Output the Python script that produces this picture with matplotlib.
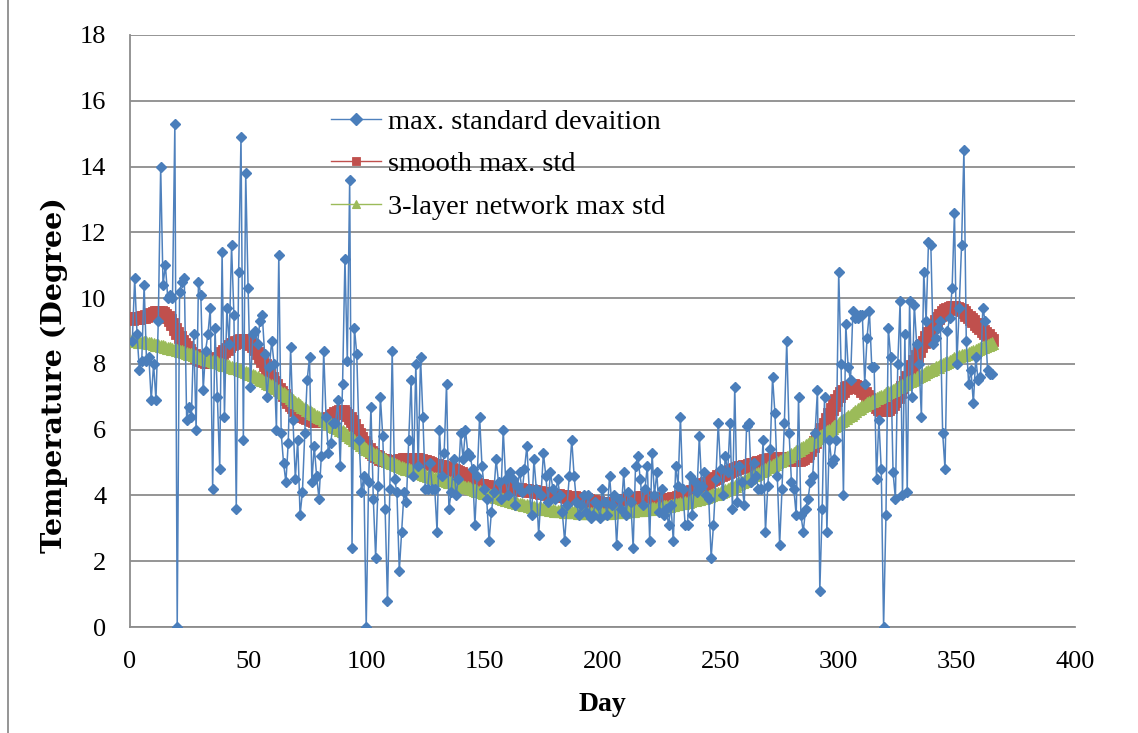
import numpy as np
import matplotlib
matplotlib.use("Agg")
import matplotlib.pyplot as plt
from matplotlib.lines import Line2D

# daily max. standard deviation (day 1..365)
max_std = [
    8.7, 10.6, 8.9, 7.8, 8.1, 10.4, 8.1, 8.2, 6.9, 8.0,
    6.9, 9.3, 14.0, 10.4, 11.0, 10.0, 10.1, 10.0, 15.3, 0.0,
    10.2, 10.5, 10.6, 6.3, 6.7, 6.4, 8.9, 6.0, 10.5, 10.1,
    7.2, 8.4, 8.9, 9.7, 4.2, 9.1, 7.0, 4.8, 11.4, 6.4,
    9.7, 8.6, 11.6, 9.5, 3.6, 10.8, 14.9,
    5.7, 13.8, 10.3, 7.3, 8.9, 9.0, 8.6, 9.3, 9.5, 8.3,
    7.0, 7.9, 8.7, 8.0, 6.0, 11.3, 5.9, 5.0, 4.4, 5.6,
    8.5, 6.3, 4.5, 5.7, 3.4, 4.1, 5.9, 7.5, 8.2, 4.4,
    5.5, 4.6, 3.9, 5.2, 8.4, 6.4, 5.3, 5.6, 6.2, 6.2,
    6.9, 4.9, 7.4, 11.2, 8.1, 13.6, 2.4, 9.1,
    8.3, 5.7, 4.1, 4.6, 0.0, 4.4, 6.7, 3.9, 2.1, 4.3,
    7.0, 5.8, 3.6, 0.8, 4.2, 8.4, 4.5, 4.1, 1.7, 2.9,
    4.1, 3.8, 5.7, 7.5, 4.6, 8.0, 4.9, 8.2, 6.4, 4.2,
    4.2, 5.0, 4.2, 4.2, 2.9, 6.0, 4.6, 5.3, 7.4, 3.6,
    4.1, 5.1, 4.0, 4.5, 5.9,
    5.1, 6.0, 5.3, 5.2, 4.8, 3.1, 4.6, 6.4, 4.9, 4.2,
    3.9, 2.6, 3.5, 4.1, 5.1, 4.4, 3.9, 6.0, 4.5, 4.0,
    4.7, 4.5, 3.7, 4.3, 4.7, 4.1, 4.8, 5.5, 4.2, 3.4,
    5.1, 4.2, 2.8, 4.0, 5.3, 4.6, 3.8, 4.7, 4.2, 3.9,
    4.5, 4.0, 3.5, 2.6, 3.7, 4.6, 5.7,
    4.6, 3.8, 3.4, 3.7, 4.0, 3.5, 4.0, 3.3, 3.4, 3.8,
    3.7, 3.3, 4.2, 3.8, 3.4, 4.6, 3.7, 4.0, 2.5, 3.9,
    3.6, 4.7, 3.4, 4.1, 3.8, 2.4, 4.9, 5.2, 4.5, 3.7,
    4.2, 4.9, 2.6, 5.3, 4.0, 4.7, 3.5, 4.2, 3.4, 3.6,
    3.1, 3.7, 2.6, 4.9, 4.3, 6.4,
    4.2, 3.1, 3.1, 4.6, 3.4, 4.4, 4.1, 5.8, 4.3, 4.7,
    4.0, 3.9, 2.1, 3.1, 4.5, 6.2, 4.8, 4.0, 5.2, 4.7,
    6.2, 3.6, 7.3, 3.8, 4.9, 4.4, 3.7, 6.1, 6.2, 4.4,
    5.0, 4.6, 4.2, 4.2, 5.7, 2.9, 4.3, 5.4, 7.6, 6.5,
    4.6, 2.5, 4.2, 6.2, 8.7, 5.9, 4.4,
    4.2, 3.4, 7.0, 3.4, 2.9, 3.6, 3.9, 4.4, 4.6, 5.9,
    7.2, 1.1, 3.6, 7.0, 2.9, 5.7, 5.0, 5.1, 5.7, 10.8,
    8.0, 4.0, 9.2, 7.9, 7.5, 9.6, 9.4, 9.4, 9.5, 9.5,
    7.4, 8.8, 9.6, 7.9, 7.9, 4.5, 6.3, 4.8, 0.0, 3.4,
    9.1, 8.2, 4.7, 3.9, 8.0, 9.9,
    4.0, 8.9, 4.1, 9.9, 7.0, 9.8, 8.6, 8.0, 6.4, 10.8,
    9.3, 11.7, 11.6, 8.6, 8.8, 9.1, 9.3, 5.9, 4.8, 9.0,
    9.4, 10.3, 12.6, 8.0, 9.7, 11.6, 14.5, 8.7, 7.4, 7.8,
    6.8, 8.2, 7.5, 7.6, 9.7, 9.3, 7.8, 7.7, 7.7,
]

smooth_std = [
    9.36, 9.38, 9.40, 9.41, 9.42, 9.44, 9.47, 9.50, 9.53, 9.55,
    9.57, 9.58, 9.57, 9.54, 9.50, 9.42, 9.32, 9.20, 9.07, 8.95,
    8.83, 8.71, 8.60, 8.50, 8.42, 8.34, 8.27, 8.21, 8.16, 8.12,
    8.09, 8.07, 8.07, 8.08, 8.10, 8.14, 8.19, 8.25, 8.32, 8.39,
    8.46, 8.53, 8.59, 8.64, 8.68, 8.71, 8.73, 8.73, 8.71, 8.67,
    8.61, 8.53, 8.44, 8.33, 8.21, 8.09, 7.96, 7.83, 7.70, 7.58,
    7.46, 7.35, 7.24, 7.14, 7.04, 6.94, 6.85, 6.76, 6.68, 6.61,
    6.54, 6.48, 6.43, 6.38, 6.34, 6.31, 6.29, 6.27, 6.26, 6.26,
    6.27, 6.29, 6.32, 6.36, 6.41, 6.46, 6.51, 6.55, 6.57, 6.56,
    6.52, 6.45, 6.36, 6.25, 6.13, 6.00, 5.87, 5.74, 5.62, 5.51,
    5.41, 5.33, 5.26, 5.20, 5.16, 5.12, 5.09, 5.07, 5.06, 5.05,
    5.05, 5.05, 5.06, 5.07, 5.09, 5.10, 5.11, 5.12, 5.12, 5.12,
    5.11, 5.10, 5.08, 5.06, 5.04, 5.01, 4.98, 4.96, 4.94, 4.92,
    4.90, 4.88, 4.86, 4.84, 4.82, 4.80, 4.77, 4.74, 4.71, 4.67,
    4.62, 4.57, 4.52, 4.47, 4.43, 4.39, 4.36, 4.33, 4.31, 4.29,
    4.28, 4.27, 4.26, 4.26, 4.25, 4.25, 4.24, 4.24, 4.23, 4.22,
    4.22, 4.21, 4.20, 4.20, 4.19, 4.18, 4.17, 4.16, 4.15, 4.14,
    4.12, 4.11, 4.10, 4.08, 4.07, 4.06, 4.04, 4.03, 4.02, 4.01,
    4.00, 3.99, 3.98, 3.97, 3.96, 3.95, 3.94, 3.94, 3.93, 3.92,
    3.91, 3.90, 3.88, 3.86, 3.84, 3.82, 3.81, 3.79, 3.78, 3.77,
    3.76, 3.76, 3.76, 3.77, 3.78, 3.79, 3.81, 3.83, 3.85, 3.87,
    3.89, 3.90, 3.92, 3.93, 3.93, 3.94, 3.94, 3.94, 3.93, 3.93,
    3.92, 3.91, 3.90, 3.89, 3.88, 3.88, 3.88, 3.88, 3.89, 3.91,
    3.93, 3.96, 3.99, 4.02, 4.05, 4.08, 4.11, 4.14, 4.18, 4.22,
    4.26, 4.30, 4.34, 4.38, 4.42, 4.46, 4.50, 4.54, 4.58, 4.61,
    4.64, 4.67, 4.70, 4.73, 4.76, 4.79, 4.82, 4.85, 4.87, 4.89,
    4.91, 4.93, 4.95, 4.97, 4.99, 5.01, 5.03, 5.05, 5.07, 5.08,
    5.10, 5.11, 5.12, 5.13, 5.13, 5.13, 5.13, 5.12, 5.11, 5.10,
    5.09, 5.08, 5.08, 5.10, 5.14, 5.20, 5.28, 5.38, 5.49, 5.61,
    5.74, 5.88, 6.02, 6.17, 6.32, 6.47, 6.62, 6.76, 6.89, 7.01,
    7.11, 7.19, 7.26, 7.31, 7.34, 7.35, 7.34, 7.31, 7.26, 7.19,
    7.11, 7.02, 6.93, 6.84, 6.76, 6.69, 6.64, 6.61, 6.60, 6.61,
    6.64, 6.70, 6.78, 6.88, 7.00, 7.14, 7.29, 7.45, 7.61, 7.77,
    7.93, 8.09, 8.24, 8.39, 8.53, 8.67, 8.81, 8.94, 9.07, 9.19,
    9.30, 9.40, 9.49, 9.57, 9.63, 9.68, 9.71, 9.73, 9.73, 9.71,
    9.68, 9.63, 9.57, 9.50, 9.43, 9.36, 9.29, 9.22, 9.15, 9.08,
    9.01, 8.94, 8.87, 8.80, 8.73,
]

network_std = [
    8.72, 8.71, 8.70, 8.68, 8.67, 8.66, 8.65, 8.63, 8.62, 8.60,
    8.58, 8.56, 8.55, 8.53, 8.51, 8.49, 8.47, 8.46, 8.44, 8.42,
    8.40, 8.38, 8.35, 8.33, 8.31, 8.29, 8.27, 8.24, 8.22, 8.20,
    8.18, 8.16, 8.13, 8.11, 8.09, 8.07, 8.05, 8.02, 8.00, 7.98,
    7.96, 7.93, 7.91, 7.88, 7.86, 7.83, 7.80, 7.78, 7.75, 7.72,
    7.69, 7.66, 7.62, 7.59, 7.55, 7.51, 7.47, 7.43, 7.39, 7.35,
    7.31, 7.26, 7.21, 7.16, 7.11, 7.06, 7.01, 6.96, 6.90, 6.85,
    6.80, 6.75, 6.70, 6.66, 6.61, 6.57, 6.52, 6.47, 6.43, 6.38,
    6.34, 6.29, 6.25, 6.21, 6.16, 6.12, 6.08, 6.04, 5.99, 5.95,
    5.90, 5.84, 5.79, 5.74, 5.68, 5.63, 5.58, 5.53, 5.47, 5.42,
    5.38, 5.34, 5.30, 5.26, 5.22, 5.18, 5.14, 5.10, 5.06, 5.02,
    4.99, 4.96, 4.93, 4.90, 4.87, 4.84, 4.81, 4.79, 4.76, 4.73,
    4.71, 4.69, 4.67, 4.65, 4.62, 4.60, 4.58, 4.56, 4.54, 4.52,
    4.50, 4.48, 4.46, 4.44, 4.42, 4.40, 4.38, 4.36, 4.34, 4.32,
    4.30, 4.27, 4.25, 4.22, 4.20, 4.18, 4.15, 4.13, 4.10, 4.08,
    4.06, 4.03, 4.01, 3.99, 3.96, 3.94, 3.92, 3.90, 3.87, 3.85,
    3.83, 3.81, 3.79, 3.77, 3.75, 3.74, 3.72, 3.70, 3.68, 3.66,
    3.65, 3.63, 3.62, 3.61, 3.60, 3.59, 3.58, 3.56, 3.55, 3.54,
    3.53, 3.53, 3.52, 3.51, 3.51, 3.50, 3.50, 3.49, 3.49, 3.48,
    3.48, 3.47, 3.47, 3.47, 3.46, 3.46, 3.46, 3.46, 3.47, 3.47,
    3.47, 3.48, 3.48, 3.49, 3.49, 3.50, 3.50, 3.51, 3.51, 3.52,
    3.53, 3.54, 3.54, 3.55, 3.56, 3.57, 3.57, 3.58, 3.59, 3.60,
    3.61, 3.62, 3.63, 3.64, 3.66, 3.67, 3.68, 3.69, 3.71, 3.72,
    3.73, 3.75, 3.76, 3.78, 3.80, 3.81, 3.83, 3.85, 3.86, 3.88,
    3.90, 3.92, 3.94, 3.96, 3.98, 4.01, 4.03, 4.05, 4.08, 4.10,
    4.13, 4.16, 4.20, 4.23, 4.27, 4.30, 4.34, 4.38, 4.41, 4.45,
    4.49, 4.53, 4.57, 4.61, 4.65, 4.69, 4.73, 4.77, 4.81, 4.85,
    4.89, 4.93, 4.97, 5.01, 5.05, 5.09, 5.13, 5.17, 5.21, 5.25,
    5.29, 5.34, 5.38, 5.43, 5.47, 5.52, 5.56, 5.61, 5.65, 5.70,
    5.75, 5.80, 5.85, 5.90, 5.95, 6.00, 6.05, 6.10, 6.15, 6.20,
    6.25, 6.30, 6.36, 6.41, 6.46, 6.51, 6.56, 6.62, 6.67, 6.72,
    6.76, 6.80, 6.84, 6.87, 6.91, 6.95, 6.99, 7.02, 7.06, 7.10,
    7.14, 7.18, 7.21, 7.25, 7.29, 7.33, 7.37, 7.40, 7.44, 7.48,
    7.52, 7.55, 7.59, 7.63, 7.66, 7.70, 7.74, 7.78, 7.81, 7.85,
    7.89, 7.92, 7.96, 7.99, 8.03, 8.06, 8.10, 8.13, 8.17, 8.20,
    8.23, 8.26, 8.28, 8.31, 8.34, 8.37, 8.40, 8.42, 8.45, 8.48,
    8.51, 8.54, 8.57, 8.60, 8.62,
]

labels = ["max. standard devaition", "smooth max. std", "3-layer network max std"]

plt.rcParams['font.family'] = ['Liberation Serif', 'DejaVu Serif']

fig = plt.figure(figsize=(11.38, 7.33), dpi=100)
ax = fig.add_axes([0.1142, 0.1446, 0.8304, 0.8077])

days_blue = np.arange(1, len(max_std) + 1)
days_red = np.arange(1, len(smooth_std) + 1)
days_green = np.arange(1, len(network_std) + 1)

h_blue, = ax.plot(days_blue, max_std, color='#4F81BD', lw=1.1, marker='D',
                  markersize=5, markerfacecolor='#4A7EBB', markeredgecolor='#4A7EBB',
                  zorder=5)
h_red, = ax.plot(days_red, smooth_std, color='#C0504D', lw=1.0, marker='s',
                 markersize=8.5, markerfacecolor='#C0504D', markeredgecolor='#C0504D',
                 markeredgewidth=0.6, zorder=3)
h_green, = ax.plot(days_green, network_std, color='#9BBB59', lw=1.0, marker='^',
                   markersize=9, markerfacecolor='#9BBB59', markeredgecolor='#9BBB59',
                   markeredgewidth=0.8, zorder=4)

ax.set_xlim(0, 400)
ax.set_ylim(0, 18)
ax.set_xticks(np.arange(0, 401, 50))
ax.set_yticks(np.arange(0, 19, 2))
ax.tick_params(length=0, labelsize=19, pad=17)
ax.grid(axis='y', color='#8C8C8C', lw=1.3)
ax.set_axisbelow(True)
for s in ['top', 'right']:
    ax.spines[s].set_visible(False)
for s in ['left', 'bottom']:
    ax.spines[s].set_color('#8C8C8C')
    ax.spines[s].set_linewidth(1.3)

ax.set_xlabel("Day", fontsize=20, fontweight='bold', labelpad=14)
ax.set_ylabel("Temperature (Degree)", fontsize=20.5, fontweight='bold',
              family=['DejaVu Serif'])
ax.yaxis.set_label_coords(-0.066, 0.426)

leg = ax.legend([h_blue, h_red, h_green], labels, loc='upper left',
                bbox_to_anchor=(0.213, 0.875), frameon=False, fontsize=20.5,
                handlelength=1.75, handletextpad=0.25, labelspacing=0.58,
                borderpad=0, borderaxespad=0)
for h in leg.legend_handles:
    h.set_linewidth(1.0)
    h.set_markersize(6)

# outer chart-area edge on the left
fig.add_artist(Line2D([7.5 / 1138, 7.5 / 1138], [0, 1], transform=fig.transFigure,
                      color='#8C8C8C', lw=1.3))

fig.savefig("out.png", dpi=100)
